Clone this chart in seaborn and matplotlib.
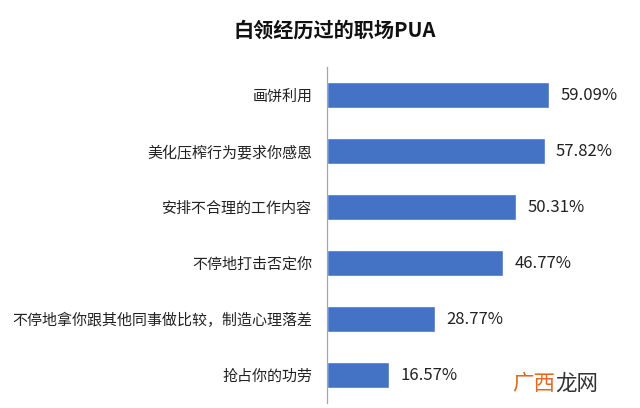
import numpy as np
import pandas as pd
import seaborn as sns
import matplotlib.pyplot as plt
from matplotlib.ticker import FixedLocator

categories = ["画饼利用", "美化压榨行为要求你感恩", "安排不合理的工作内容",
              "不停地打击否定你", "不停地拿你跟其他同事做比较，制造心理落差", "抢占你的功劳"]
values = [59.09, 57.82, 50.31, 46.77, 28.77, 16.57]
value_labels = ["59.09%", "57.82%", "50.31%", "46.77%", "28.77%", "16.57%"]
title = "白领经历过的职场PUA"

sns.set_style("white")
plt.rcParams['font.family'] = ['Noto Sans CJK SC', 'DejaVu Sans']

df = pd.DataFrame({"cat": categories, "val": values})

fig = plt.figure(figsize=(6.4, 4.08), dpi=100)
ax = fig.add_axes([327 / 640, 1 - 403 / 408, 1 - 327 / 640, (403 - 67) / 408])
sns.barplot(data=df, y="cat", x="val", color="#4472C4", width=0.48,
            saturation=1, ax=ax)

ax.set_xlim(0, 83.2)
ax.set_ylim(5.5, -0.5)
ax.set_xlabel("")
ax.set_ylabel("")
ax.set_xticks([])
for s in ["top", "right", "bottom"]:
    ax.spines[s].set_visible(False)
ax.spines["left"].set_color("#a6a6a6")
ax.spines["left"].set_linewidth(0.9)
ax.tick_params(axis="y", which="major", length=0, pad=10.5, labelsize=10.8,
               labelcolor="#222222")
ax.yaxis.set_minor_locator(FixedLocator(np.arange(-0.5, 6.0, 1.0)))
ax.tick_params(axis="y", which="minor", length=4, color="#a6a6a6", width=0.9)

for i, (v, lab) in enumerate(zip(values, value_labels)):
    ax.text(v + 3.0, i, lab, va="center", ha="left", fontsize=12,
            color="#222222")

fig.text(335 / 640, 1 - 30 / 408, title, ha="center", va="center",
         fontsize=14.5, fontweight="heavy", color="#111111")

# watermark
fig.text(512 / 640, 1 - 384 / 408, "广西", ha="left", va="center",
         fontsize=15.5, color="#e06a1f")
fig.text(555 / 640, 1 - 384 / 408, "龙网", ha="left", va="center",
         fontsize=15.5, color="#333333")

fig.savefig("out.png", dpi=100)
